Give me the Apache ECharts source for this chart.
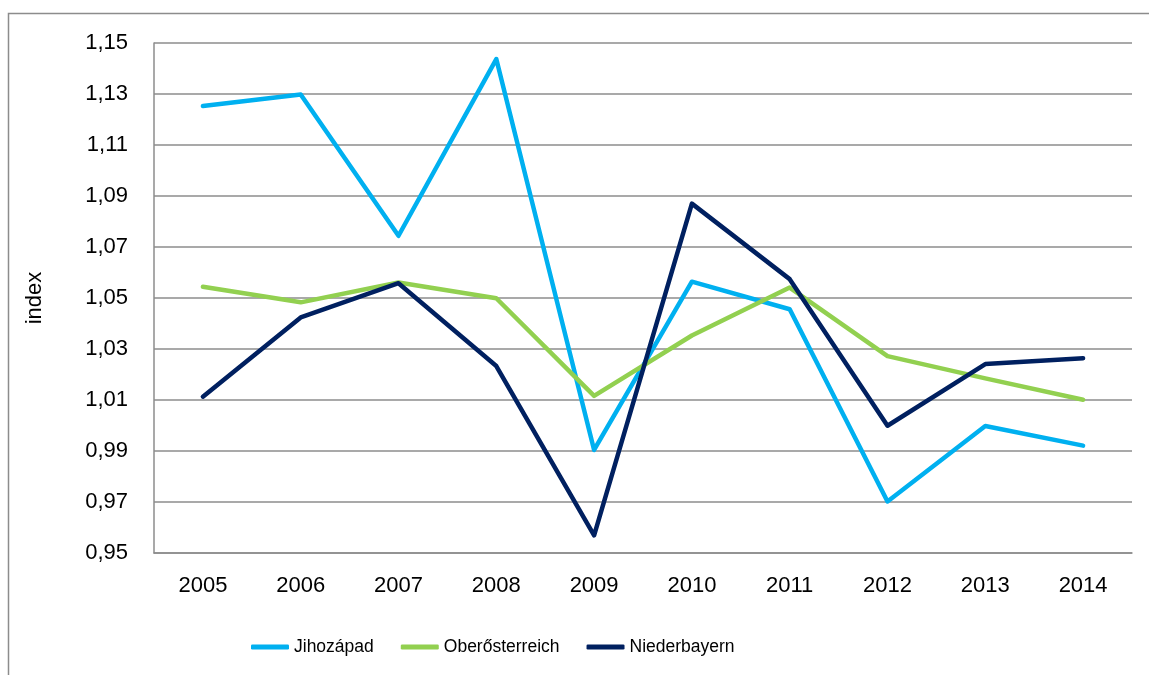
<!DOCTYPE html>
<html>
<head>
<meta charset="utf-8" />
<title>index</title>
<style>
    html,body{margin:0;padding:0;background:#fff;}
    #chart{width:1149px;height:675px;}
</style>
</head>
<body>
<div id="chart"></div>
<script src="https://cdn.jsdelivr.net/npm/echarts@6/dist/echarts.min.js"></script>
<script>
    // data
    var years = ['2005','2006','2007','2008','2009','2010','2011','2012','2013','2014'];
    var jihozapad      = [1.1253, 1.1298, 1.0744, 1.1437, 0.9904, 1.0564, 1.0456, 0.9702, 0.9998, 0.9921];
    var oberosterreich = [1.0544, 1.0483, 1.0561, 1.0499, 1.0116, 1.0353, 1.0541, 1.0272, 1.0185, 1.0101];
    var niederbayern   = [1.0113, 1.0424, 1.0558, 1.0233, 0.9569, 1.0870, 1.0574, 0.9999, 1.0241, 1.0264];
    var yMin = 0.95, yMax = 1.15, yStep = 0.02;

    var font = '"Liberation Sans", Arial, sans-serif';
    var chart = echarts.init(document.getElementById('chart'));

    function line(name, data, color) {
        return {
            name: name,
            type: 'line',
            data: data,
            showSymbol: false,
            lineStyle: {width: 4.5, color: color, cap: 'round', join: 'round'},
            itemStyle: {color: color}
        };
    }

    chart.setOption({
        animation: false,
        textStyle: {fontFamily: font},
        graphic: [{
            type: 'rect',
            shape: {x: 8.5, y: 13.5, width: 1160, height: 700},
            style: {fill: 'none', stroke: '#8c8c8c', lineWidth: 1.5},
            silent: true
        }],
        grid: {left: 154, right: 17, top: 43, bottom: 122},
        legend: {
            left: 246,
            top: 633,
            icon: 'roundRect',
            itemWidth: 38,
            itemHeight: 5,
            itemGap: 27,
            textStyle: {fontSize: 17.5, color: '#000', fontFamily: font},
            data: ['Jihozápad', 'Oberősterreich', 'Niederbayern']
        },
        xAxis: {
            type: 'category',
            data: years,
            boundaryGap: true,
            axisLine: {lineStyle: {color: '#8c8c8c', width: 1.5}},
            axisTick: {show: false},
            axisLabel: {fontSize: 22, color: '#000', margin: 22}
        },
        yAxis: {
            type: 'value',
            min: yMin,
            max: yMax,
            interval: yStep,
            name: 'index',
            nameLocation: 'middle',
            nameRotate: 90,
            nameGap: 108,
            nameTextStyle: {fontSize: 22, color: '#000'},
            axisLine: {show: true, lineStyle: {color: '#8c8c8c', width: 1.5}},
            axisTick: {show: false},
            splitLine: {lineStyle: {color: '#8c8c8c', width: 1.5}},
            axisLabel: {
                fontSize: 22,
                color: '#000',
                margin: 26,
                formatter: function (v) { return v.toFixed(2).replace('.', ','); }
            }
        },
        series: [
            line('Jihozápad', jihozapad, '#00b0f0'),
            line('Oberősterreich', oberosterreich, '#92d050'),
            line('Niederbayern', niederbayern, '#002060')
        ]
    });
</script>
</body>
</html>
